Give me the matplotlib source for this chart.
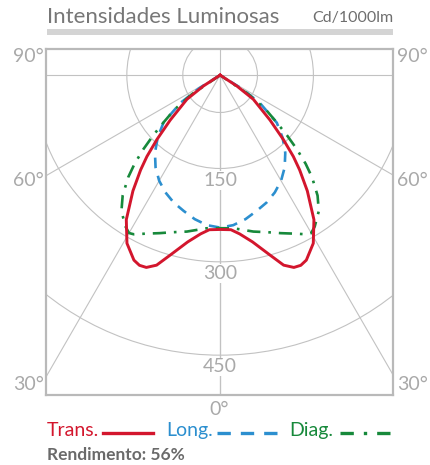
import numpy as np
import matplotlib.pyplot as plt
from matplotlib.patches import Circle, Rectangle
from matplotlib.lines import Line2D

plt.rcParams['font.family'] = ['Lato', 'DejaVu Sans']

# intensity curves, cd/1000lm, angle measured from the downward vertical
trans_ang = [0, 4, 7, 11, 15.5, 18.5, 21, 23, 25, 29, 33, 37, 40, 42, 44.5, 48, 54, 57, 60]
trans_cd = [248, 249, 257, 273, 300, 322, 331, 332, 328, 309, 277, 233, 199, 176, 145, 108, 66, 32, 0]

long_ang = [0, 5, 10, 15, 20, 25, 30, 35, 40, 45, 50, 55, 58, 62]
long_cd = [245, 242, 235, 226, 218, 208, 196, 181, 163, 142, 119, 78, 40, 0]

diag_ang = [0, 5, 12, 17, 21, 25, 28.5, 30, 32, 36, 39, 42, 44, 46, 48, 50, 53, 56, 60]
diag_cd = [246, 247, 257, 264, 272, 281, 291, 293, 287, 270, 249, 221, 198, 172, 145, 120, 92, 55, 0]

rings = [60, 150, 300, 450]
ring_labels = [150, 300, 450]
spokes = [0, 30, 60, 90]
side_labels = ['90°', '60°', '30°']
side_label_pos = [0.977, 0.621, 0.029]
efficiency = 56

RED = '#d3162d'
BLUE = '#2c8fcf'
GREEN = '#17893b'
GRID = '#c2c2c2'
FRAME = '#b9b9b9'
LABEL = '#a9a9a9'


def mirrored(ang, cd):
    """Both halves of a symmetric curve as x, y (down is negative)"""
    a = np.radians(np.concatenate([-np.array(ang)[::-1], np.array(ang)]))
    r = np.concatenate([np.array(cd)[::-1], np.array(cd)])
    return r * np.sin(a), -r * np.cos(a)


fig = plt.figure(figsize=(4.31, 4.65), dpi=100)
ax = fig.add_axes([46 / 431, 70 / 465, 347 / 431, 346 / 465])
ax.set_xlim(-280, 278)
ax.set_ylim(-514, 42)
ax.set_xticks([])
ax.set_yticks([])
for sp in ax.spines.values():
    sp.set_color(FRAME)
    sp.set_linewidth(1.6)

# polar grid
for r in rings:
    ax.add_patch(Circle((0, 0), r, fill=False, ec=GRID, lw=0.8, zorder=1))
for s in spokes:
    a = np.radians(s)
    for side in (-1, 1):
        ax.plot([0, side * 1000 * np.sin(a)], [0, -1000 * np.cos(a)],
                color=GRID, lw=0.8, zorder=1)
ax.axvline(0, color=GRID, lw=0.8, zorder=1)

for v in ring_labels:
    ax.text(0, -(v + 19), str(v), ha='center', va='center', fontsize=14,
            color=LABEL, zorder=2,
            bbox=dict(boxstyle='square,pad=0.05', fc='white', ec='none'))

for lab, yy in zip(side_labels, side_label_pos):
    ax.text(-0.006, yy, lab, transform=ax.transAxes, ha='right', va='center',
            fontsize=14, color=LABEL)
    ax.text(1.012, yy, lab, transform=ax.transAxes, ha='left', va='center',
            fontsize=14, color=LABEL)
ax.text(0.5, -0.043, '0°', transform=ax.transAxes, ha='center', va='center',
        fontsize=14, color=LABEL)

# curves
x, y = mirrored(long_ang, long_cd)
ax.plot(x, y, color=BLUE, lw=1.9, ls=(0, (4, 3)), zorder=3)
x, y = mirrored(diag_ang, diag_cd)
ax.plot(x, y, color=GREEN, lw=1.9, ls=(0, (5, 3, 1, 3)), zorder=3)
x, y = mirrored(trans_ang, trans_cd)
ax.plot(x, y, color=RED, lw=2.1, zorder=4, solid_joinstyle='round')

# header
fig.text(47 / 431, 1 - 17 / 465, 'Intensidades Luminosas', ha='left',
         va='center', fontsize=16, color='#777777')
fig.text(393 / 431, 1 - 18 / 465, 'Cd/1000lm', ha='right', va='center',
         fontsize=11.5, color='#6e6e6e')
fig.add_artist(Rectangle((47 / 431, 1 - 35 / 465), 346 / 431, 6 / 465,
                         transform=fig.transFigure, color='#d4d4d4', lw=0))

# legend row
ly = 1 - 430 / 465
fig.text(47 / 431, ly, 'Trans.', ha='left', va='center', fontsize=14, color=RED)
fig.add_artist(Line2D([103 / 431, 153 / 431], [ly - 0.006] * 2, color=RED,
                      lw=2.4, transform=fig.transFigure))
fig.text(166 / 431, ly, 'Long.', ha='left', va='center', fontsize=14, color=BLUE)
fig.add_artist(Line2D([217 / 431, 280 / 431], [ly - 0.006] * 2, color=BLUE,
                      lw=2.4, ls=(0, (4, 3)), transform=fig.transFigure))
fig.text(289 / 431, ly, 'Diag.', ha='left', va='center', fontsize=14, color=GREEN)
fig.add_artist(Line2D([340 / 431, 390 / 431], [ly - 0.006] * 2, color=GREEN,
                      lw=2.4, ls=(0, (4, 3, 1, 3)), transform=fig.transFigure))

fig.text(47 / 431, 1 - 455 / 465, f'Rendimento: {efficiency}%', ha='left',
         va='center', fontsize=12.5, color='#6a6a6a', fontweight='bold')

fig.savefig('out.png', dpi=100)
